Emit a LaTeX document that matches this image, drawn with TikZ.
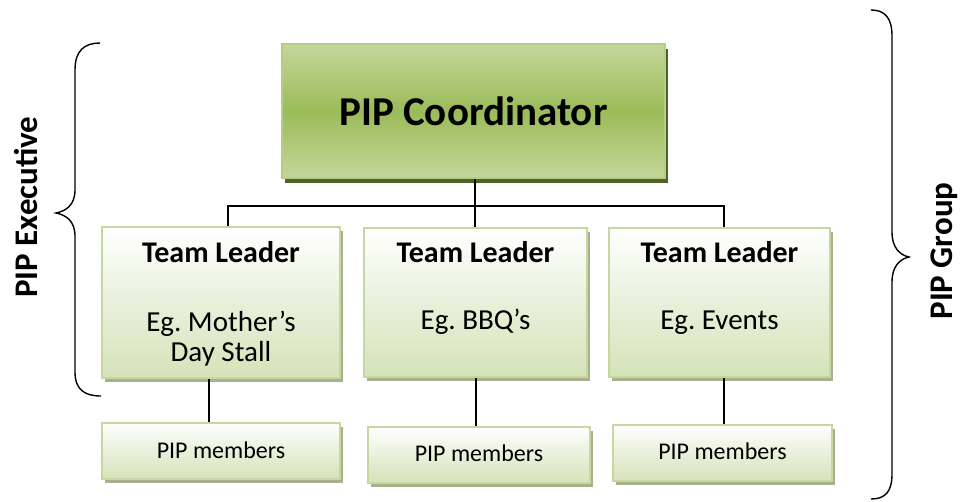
\documentclass[tikz,border=0pt]{standalone}
\usepackage{fontspec}
\setmainfont{Carlito}
\usetikzlibrary{shadows,calc}
\frenchspacing
\definecolor{coordtop}{HTML}{C4D79B}
\definecolor{coordmid}{HTML}{9BBB59}
\definecolor{coordshadow}{HTML}{4F6228}
\definecolor{coordedge}{HTML}{B5CE84}
\definecolor{tlbottom}{HTML}{D5E3B9}
\definecolor{tlmid}{HTML}{E9F0DB}
\definecolor{tledge}{HTML}{C6D8A2}
\definecolor{tlshadow}{HTML}{A9B08E}
\begin{document}
\begin{tikzpicture}[x=1pt,y=-1pt,
  coordbox/.style={rectangle, inner sep=0pt, minimum width=383pt, minimum height=134pt,
    draw=coordedge, line width=2pt, top color=coordtop, bottom color=coordtop, middle color=coordmid,
    general shadow={fill=coordshadow, shadow xshift=3pt, shadow yshift=-4.5pt},
    font=\bfseries\fontsize{41}{49}\selectfont},
  tlbox/.style={rectangle, inner sep=0pt, minimum height=150pt,
    draw=tledge, line width=2pt, top color=white, bottom color=tlbottom, middle color=tlmid,
    general shadow={fill=tlshadow, shadow xshift=3pt, shadow yshift=-4pt}},
  membox/.style={tlbox, minimum height=56pt},
  headtxt/.style={anchor=base, font=\bfseries\fontsize{30}{36}\selectfont},
  bodytxt/.style={anchor=base, font=\fontsize{29}{35}\selectfont},
  memtxt/.style={anchor=base, font=\fontsize{24}{29}\selectfont},
  sidetxt/.style={anchor=base, rotate=90, font=\bfseries\fontsize{33}{40}\selectfont},
  conn/.style={draw=black, line width=2.4pt},
  bracepath/.style={draw=black, line width=1.4pt}
]
\path[use as bounding box] (0,0) rectangle (961,501);

% boxes
\node[coordbox] (coord) at (473.5,111) {PIP Coordinator};
\node[tlbox, minimum width=238pt, minimum height=151pt] (tl1) at (221,302.5) {};
\node[tlbox, minimum width=223pt, minimum height=149pt] (tl2) at (475.5,302.5) {};
\node[tlbox, minimum width=221pt, minimum height=149pt] (tl3) at (719.5,302.5) {};
\node[membox, minimum width=238pt] (mem1) at (221,451) {};
\node[membox, minimum width=222pt] (mem2) at (479,455) {};
\node[membox, minimum width=219pt] (mem3) at (722.5,453) {};

% texts in team leader boxes
\node[headtxt] (h1) at (221,262) {Team Leader};
\node[bodytxt] (b1a) at (221,331) {Eg. Mother’s};
\node[bodytxt] (b1b) at (221,361) {Day Stall};
\node[headtxt] (h2) at (475.5,262) {Team Leader};
\node[bodytxt] (b2) at (475.5,329) {Eg. BBQ’s};
\node[headtxt] (h3) at (719.5,262) {Team Leader};
\node[bodytxt] (b3) at (719.5,329) {Eg. Events};
\node[memtxt] (t1) at (221,458) {PIP members};
\node[memtxt] (t2) at (479,461) {PIP members};
\node[memtxt] (t3) at (722.5,459) {PIP members};

% connectors
\coordinate (bus) at (475,206);
\coordinate (jl) at (228,206);
\coordinate (jr) at (724,206);
\draw[conn] (coord.south -| bus) -- (bus);
\draw[conn] (jl |- tl1.north) -- (jl) -- (jr) -- (jr |- tl3.north);
\draw[conn] (bus) -- (bus |- tl2.north);
\coordinate (d1) at (209,400);
\coordinate (d2) at (476,400);
\coordinate (d3) at (724,400);
\draw[conn] (d1 |- tl1.south) -- (d1 |- mem1.north);
\draw[conn] (d2 |- tl2.south) -- (d2 |- mem2.north);
\draw[conn] (d3 |- tl3.south) -- (d3 |- mem3.north);

% braces
\draw[bracepath] (100,43) .. controls (85,43) and (75,50) .. (75,70) -- (75,190)
  .. controls (75,205) and (66,211) .. (56,213) .. controls (66,215) and (75,221) .. (75,236)
  -- (75,372) .. controls (75,390) and (85,396) .. (101,396);
\draw[bracepath] (871,10) .. controls (885,10) and (892,18) .. (892,36) -- (892,232)
  .. controls (892,248) and (900,255) .. (909,257) .. controls (900,259) and (892,266) .. (892,282)
  -- (892,474) .. controls (892,492) and (885,499) .. (871,499);

% side labels
\node[sidetxt] (exec) at (37,207) {PIP Executive};
\node[sidetxt] (group) at (952,251) {PIP Group};
\end{tikzpicture}
\end{document}
